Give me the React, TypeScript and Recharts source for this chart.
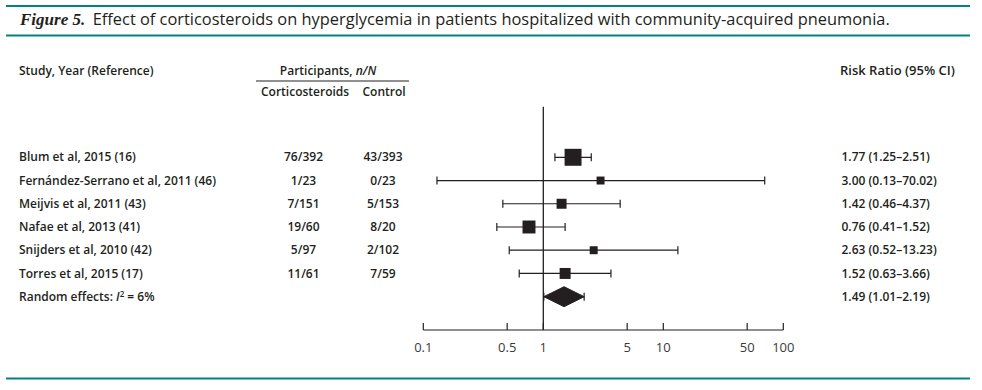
import {
  Area,
  ComposedChart,
  ErrorBar,
  ReferenceLine,
  Scatter,
  XAxis,
  YAxis,
  ZAxis,
} from "recharts"

/* ---------- data ---------- */
const studies = [
  "Blum et al, 2015 (16)",
  "Fernández-Serrano et al, 2011 (46)",
  "Meijvis et al, 2011 (43)",
  "Nafae et al, 2013 (41)",
  "Snijders et al, 2010 (42)",
  "Torres et al, 2015 (17)",
]
const steroidCounts = ["76/392", "1/23", "7/151", "19/60", "5/97", "11/61"]
const controlCounts = ["43/393", "0/23", "5/153", "8/20", "2/102", "7/59"]
const riskRatio = [1.77, 3.0, 1.42, 0.76, 2.63, 1.52]
const ciLow = [1.25, 0.13, 0.46, 0.41, 0.52, 0.63]
const ciHigh = [2.51, 70.02, 4.37, 1.52, 13.23, 3.66]
const weights = [35.8, 7.9, 12.4, 20.9, 7.9, 15.0]
const pooledLabel = "Random effects"
const pooledI2 = 6
const pooledRR = 1.49
const pooledLow = 1.01
const pooledHigh = 2.19
const xTicks = [0.1, 0.5, 1, 5, 10, 50, 100]

/* ---------- derived ---------- */
const INK = "#231f20"
const TEAL = "#00837f"
const FONT = "'Open Sans', sans-serif"
const DIAMOND_H = 0.43
const pooledRow = studies.length

const studyData = studies.map((name, i) => ({
  name,
  x: riskRatio[i],
  y: i,
  w: weights[i],
  err: [riskRatio[i] - ciLow[i], ciHigh[i] - riskRatio[i]],
}))
const pooledData = [
  { x: pooledRR, y: pooledRow, err: [pooledRR - pooledLow, pooledHigh - pooledRR] },
]
const diamondData = [
  { x: pooledLow, band: [pooledRow, pooledRow] },
  { x: pooledRR, band: [pooledRow - DIAMOND_H, pooledRow + DIAMOND_H] },
  { x: pooledHigh, band: [pooledRow, pooledRow] },
]
const rrText = (rr: number, lo: number, hi: number) =>
  `${rr.toFixed(2)} (${lo.toFixed(2)}–${hi.toFixed(2)})`

/* ---------- pieces ---------- */
function Square(p: any) {
  const s = p.size != null ? Math.sqrt(p.size) : (p.width / 2) * Math.sqrt(Math.PI)
  return <rect x={p.cx - s / 2} y={p.cy - s / 2} width={s} height={s} fill={INK} />
}

function RowLabel({ y, payload }: any) {
  const i = payload.value as number
  const common = { fontFamily: FONT, fontSize: 12, fontWeight: 600, fill: INK, dy: "0.35em" }
  if (i === pooledRow) {
    return (
      <g>
        <text x={19} y={y} {...common}>
          {pooledLabel}: <tspan fontStyle="italic">I</tspan>
          <tspan dy="-4" fontSize={8}>2</tspan>
          <tspan dy="4"> = {pooledI2}%</tspan>
        </text>
        <text x={841.5} y={y} {...common}>
          {rrText(pooledRR, pooledLow, pooledHigh)}
        </text>
      </g>
    )
  }
  return (
    <g>
      <text x={19} y={y} {...common}>{studies[i]}</text>
      <text x={303.5} y={y} textAnchor="middle" {...common}>{steroidCounts[i]}</text>
      <text x={383} y={y} textAnchor="middle" {...common}>{controlCounts[i]}</text>
      <text x={841.5} y={y} {...common}>{rrText(riskRatio[i], ciLow[i], ciHigh[i])}</text>
    </g>
  )
}

function AxisTick({ x, y, payload }: any) {
  return (
    <g>
      <line x1={x} y1={y - 7} x2={x} y2={y} stroke={INK} strokeWidth={1.2} />
      <text x={x} y={y + 22} textAnchor="middle" fontFamily={FONT} fontSize={13} fill="#3a3a3a">
        {payload.value}
      </text>
    </g>
  )
}

export default function App() {
  const W = 982
  const H = 390
  return (
    <div style={{ position: "absolute", left: 0, top: 0, width: W, height: H, background: "#fff" }}>
      <ComposedChart
        width={W}
        height={H}
        margin={{ top: 106.7, right: 198.7, bottom: 30, left: 363.3 }}
      >
        <XAxis
          type="number"
          dataKey="x"
          scale="log"
          domain={[0.1, 100]}
          ticks={xTicks}
          interval={0}
          allowDataOverflow
          tickLine={false}
          tickSize={0}
          tickMargin={0}
          tick={<AxisTick />}
          axisLine={{ stroke: INK, strokeWidth: 1.2 }}
          height={30}
        />
        <YAxis
          type="number"
          dataKey="y"
          reversed
          domain={[-2.178, 7.434]}
          allowDataOverflow
          ticks={[0, 1, 2, 3, 4, 5, 6]}
          interval={0}
          axisLine={false}
          tickLine={false}
          tick={<RowLabel />}
          width={60}
        />
        <ZAxis type="number" dataKey="w" range={[0, 289]} domain={[0, 36]} />
        <ReferenceLine x={1} stroke={INK} strokeWidth={1.3} />
        <Area
          data={diamondData}
          dataKey="band"
          type="linear"
          stroke={INK}
          strokeWidth={1}
          fill={INK}
          fillOpacity={1}
          dot={false}
          activeDot={false}
          isAnimationActive={false}
        />
        <Scatter data={studyData} shape={<Square />} isAnimationActive={false}>
          <ErrorBar dataKey="err" direction="x" width={4} stroke={INK} strokeWidth={1.2} />
        </Scatter>
        <Scatter data={pooledData} shape={() => <g />} isAnimationActive={false}>
          <ErrorBar dataKey="err" direction="x" width={4} stroke={INK} strokeWidth={1.2} />
        </Scatter>
      </ComposedChart>

      <svg
        width={W}
        height={H}
        style={{ position: "absolute", left: 0, top: 0, pointerEvents: "none" }}
      >
        <line x1={6} y1={6} x2={970} y2={6} stroke={TEAL} strokeWidth={2} />
        <line x1={6} y1={35.5} x2={970} y2={35.5} stroke={TEAL} strokeWidth={2} />
        <line x1={6} y1={378.5} x2={970} y2={378.5} stroke={TEAL} strokeWidth={2} />
        <text x={20} y={25} fill={INK}>
          <tspan fontFamily="'Liberation Serif', serif" fontStyle="italic" fontWeight={700} fontSize={17}>
            Figure 5.
          </tspan>
          <tspan x={92.7} fontFamily={FONT} fontSize={16.4}>
            Effect of corticosteroids on hyperglycemia in patients hospitalized with community-acquired pneumonia.
          </tspan>
        </text>
        <g fontFamily={FONT} fontSize={12} fontWeight={600} fill={INK}>
          <text x={19} y={74.5}>Study, Year (Reference)</text>
          <text x={328} y={74.5} textAnchor="middle">
            Participants, <tspan fontStyle="italic">n/N</tspan>
          </text>
          <line x1={256} y1={81} x2={409} y2={81} stroke={INK} strokeWidth={1} />
          <text x={261} y={95.5}>Corticosteroids</text>
          <text x={362.5} y={95.5}>Control</text>
          <text x={840} y={74.5} fontSize={13}>Risk Ratio (95% CI)</text>
        </g>
      </svg>
    </div>
  )
}
